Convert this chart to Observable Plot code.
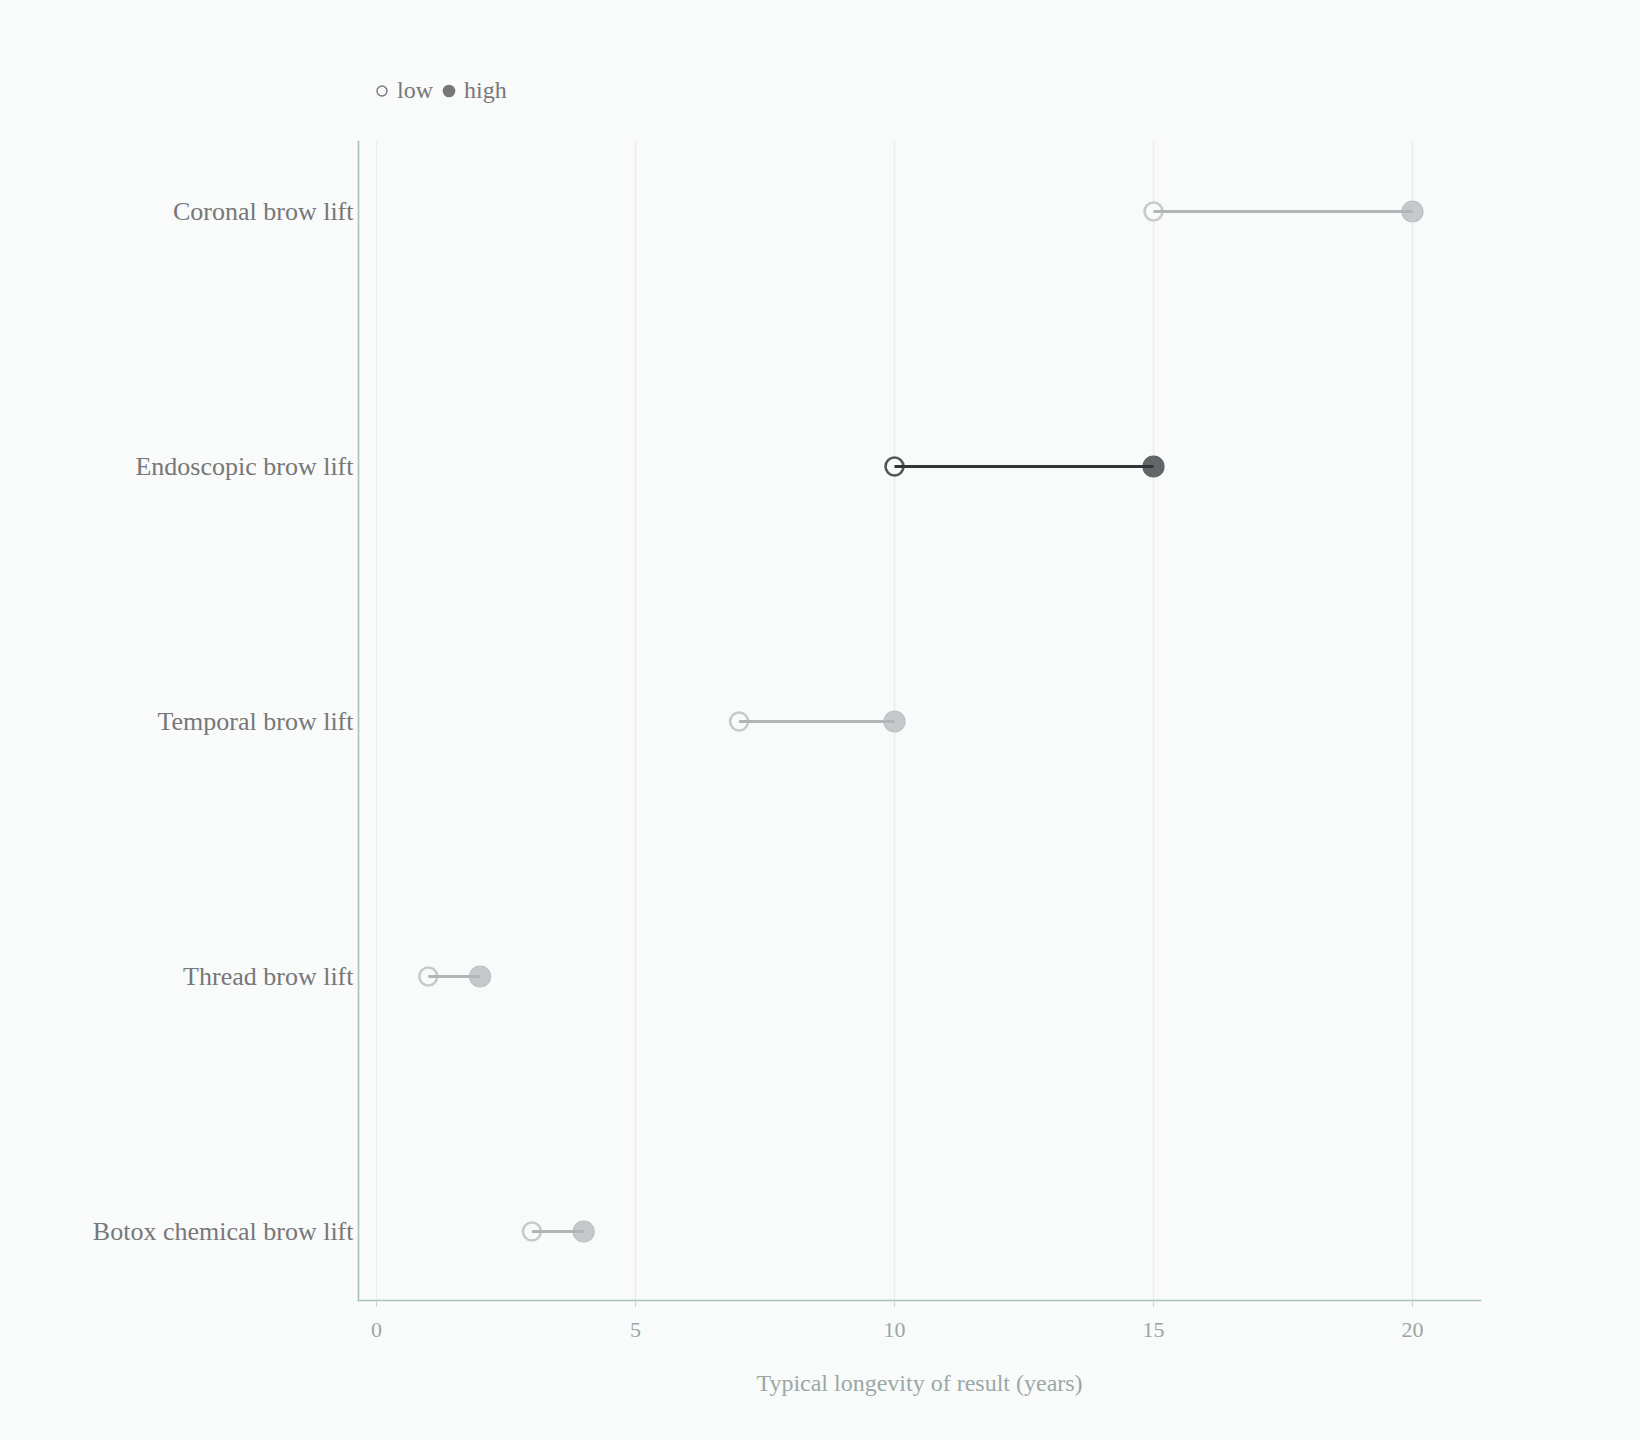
<!DOCTYPE html>
<html><head><meta charset="utf-8">
<script src="https://cdn.jsdelivr.net/npm/d3@7"></script>
<script src="https://cdn.jsdelivr.net/npm/@observablehq/plot@0.6"></script>
<style>
html,body{margin:0;padding:0;background:#f9fafa;font-family:"Liberation Serif",serif;}
#legend{height:110px;position:relative;}
#legend .item{position:absolute;top:72px;font-size:24px;color:#777;line-height:36px;}
#legend svg{position:absolute;}
#chart svg{display:block;}
</style></head><body>
<div id="legend"></div>
<div id="chart"></div>
<script>
const procedures = ["Coronal brow lift","Endoscopic brow lift","Temporal brow lift","Thread brow lift","Botox chemical brow lift"];
const lowYears = [15, 10, 7, 1, 3];
const highYears = [20, 15, 10, 2, 4];
const highlighted = "Endoscopic brow lift";
const xTicks = [0, 5, 10, 15, 20];
const axisLabel = "Typical longevity of result (years)";
const legendLabels = ["low", "high"];

const rows = procedures.map((p, i) => ({procedure: p, low: lowYears[i], high: highYears[i], hi: p === highlighted}));

// legend
const legend = document.getElementById("legend");
legend.innerHTML = `
<svg width="14" height="14" style="left:375px;top:84px"><circle cx="7" cy="7" r="5" fill="none" stroke="#777" stroke-width="1.4"/></svg>
<span class="item" style="left:397px">${legendLabels[0]}</span>
<svg width="16" height="16" style="left:441px;top:83px"><circle cx="8" cy="8" r="6.3" fill="#777"/></svg>
<span class="item" style="left:464px">${legendLabels[1]}</span>`;

const chart = Plot.plot({
  width: 1640,
  height: 1330,
  marginTop: 31,
  marginBottom: 140,
  marginLeft: 358,
  marginRight: 160,
  insetLeft: 18,
  insetRight: 68,
  style: {background: "transparent", fontFamily: "Liberation Serif, serif", overflow: "visible"},
  x: {domain: [0, 20], ticks: xTicks},
  y: {type: "point", domain: procedures, padding: 0.27},
  marks: [
    Plot.gridX(xTicks, {stroke: "#e9ecec", strokeOpacity: 1, strokeWidth: 1.3}),
    Plot.frame({anchor: "left", stroke: "#a9c3bf", strokeWidth: 1.6}),
    Plot.frame({anchor: "bottom", stroke: "#a9c3bf", strokeWidth: 1.6}),
    Plot.axisY({tickSize: 0, tickPadding: 5, fontSize: 26, fill: "#777", label: null}),
    Plot.axisX({ticks: xTicks, tickSize: 7, tickPadding: 14, fontSize: 22, fill: "#9aa6a4", stroke: "#cdd3d3", label: null}),
    Plot.text([axisLabel], {text: d => d, frameAnchor: "bottom", dy: 83, lineAnchor: "middle",
      fontSize: 24, fill: "#9aa8a6"}),
    Plot.dot(rows, {x: "low", y: "procedure", r: 9, strokeWidth: 2.6,
      stroke: d => d.hi ? "#555658" : "#c8c9cc", fill: "#f9fafa"}),
    Plot.dot(rows, {x: "high", y: "procedure", r: 10.5, strokeWidth: 1.2,
      fill: d => d.hi ? "#636569" : "#c6c8cb", stroke: d => d.hi ? "#5e6064" : "#bdbfc2"}),
    Plot.link(rows, {x1: "low", x2: "high", y1: "procedure", y2: "procedure", strokeWidth: 3,
      stroke: d => d.hi ? "#333436" : "#b2b4b7"})
  ]
});
document.getElementById("chart").appendChild(chart);
</script>
</body></html>
